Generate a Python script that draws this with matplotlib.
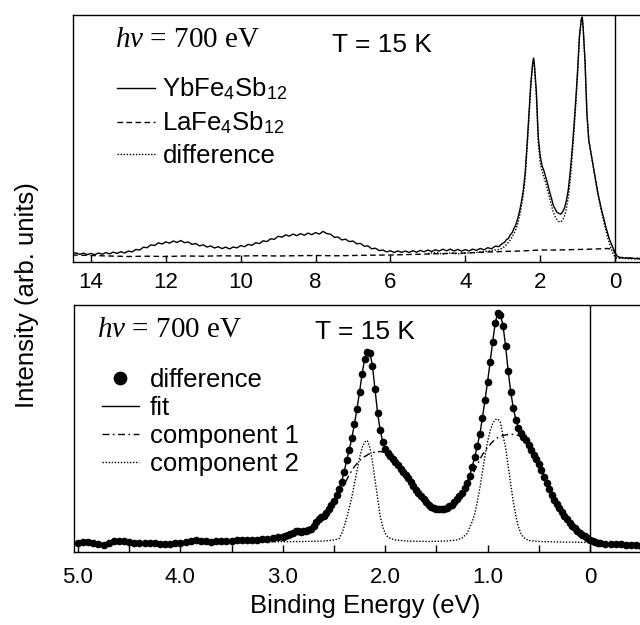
import numpy as np
import matplotlib
matplotlib.use('Agg')
import matplotlib.pyplot as plt
from matplotlib.ticker import FixedLocator, FixedFormatter, MultipleLocator

plt.rcParams['font.family'] = ['Liberation Sans', 'DejaVu Sans']
plt.rcParams['mathtext.fontset'] = 'custom'
plt.rcParams['mathtext.rm'] = 'Liberation Sans'
plt.rcParams['mathtext.it'] = 'Liberation Serif:italic'
plt.rcParams['mathtext.bf'] = 'Liberation Sans:bold'

# ---------------- top panel data (wide valence band) ----------------
# YbFe4Sb12, broad part sampled every 0.1 eV from 14.5 to 3.1 eV
yb_wide_e = np.linspace(14.5, 3.1, 115)
yb_wide_i = [8.0, 9.2, 7.6, 8.9, 7.4, 8.6, 7.3, 9.0, 7.8, 9.4,
             8.1, 9.9, 8.6, 10.3, 9.0, 10.9, 10.1, 12.6, 11.9, 14.8,
             14.3, 17.1, 16.5, 19.2, 18.0, 20.1, 18.9, 21.0, 19.6, 21.5,
             19.3, 20.0, 17.6, 18.5, 16.1, 17.2, 15.0, 16.0, 14.0, 15.3,
             13.4, 14.9, 13.0, 15.0, 14.1, 16.4, 15.3, 17.6, 16.7, 19.3,
             18.4, 21.2, 20.4, 23.2, 22.7, 25.7, 24.8, 27.1, 25.9, 27.9,
             26.3, 28.4, 26.7, 28.9, 27.3, 29.4, 27.9, 30.6, 28.4, 27.8,
             24.7, 25.0, 22.1, 22.8, 20.4, 21.0, 18.2, 18.6, 15.8, 16.1,
             13.2, 13.8, 11.4, 12.0, 10.1, 11.3, 9.5, 11.1, 9.6, 11.0,
             9.5, 11.3, 9.8, 11.6, 10.2, 12.0, 10.5, 12.3, 10.9, 12.8,
             11.2, 12.9, 11.0, 12.6, 10.9, 12.4, 11.0, 12.9, 11.6, 13.6,
             12.1, 14.3, 13.2, 15.8, 15.4]

# Yb 4f region (also used for the difference curve)
peak_e = [3.05, 3.00, 2.95, 2.90, 2.85, 2.80, 2.75, 2.70, 2.65, 2.60,
          2.55, 2.50, 2.45, 2.40, 2.35, 2.30, 2.25, 2.20, 2.175, 2.15,
          2.10, 2.05, 2.00, 1.95, 1.90, 1.85, 1.80, 1.75, 1.70, 1.65,
          1.60, 1.55, 1.50, 1.45, 1.40, 1.35, 1.30, 1.25, 1.20, 1.15,
          1.10, 1.05, 1.00, 0.95, 0.90, 0.875, 0.85, 0.80, 0.75, 0.70,
          0.65, 0.60, 0.55, 0.50, 0.45, 0.40, 0.35, 0.30, 0.25, 0.20,
          0.15, 0.10, 0.05, 0.00, -0.05, -0.10, -0.15, -0.20, -0.25, -0.30,
          -0.35, -0.40, -0.45, -0.50, -0.55, -0.60, -0.65, -0.70]
yb_peak_i = [17.2, 18.8, 19.6, 22.4, 23.5, 27.0, 29.2, 33.4, 37.1, 43.3,
             50.6, 60.3, 71.6, 89.0, 117, 147, 178, 199, 204, 196,
             170, 125, 106.5, 96.5, 91.3, 84.6, 78.3, 70.6, 64.2, 56.7,
             53.2, 49.6, 48.7, 47.8, 50.3, 53.8, 61.2, 71.8, 88.3, 109.7,
             134, 161, 191, 226, 243, 245, 234, 200, 148, 121.5,
             110.6, 100.3, 88.6, 78.4, 67.6, 59.3, 50.6, 43.8, 35.7, 29.2,
             22.8, 18.2, 13.8, 9.5, 6.2, 5.1, 4.4, 4.6, 3.9, 4.3,
             3.6, 4.0, 3.4, 3.8, 3.2, 3.6, 3.1, 3.4]
diff_peak_i = [13.0, 14.0, 15.5, 17.5, 19.5, 22.0, 25.0, 28.5, 32.5, 38.0,
               46.0, 55.0, 67.0, 84.0, 112, 143, 175, 197, 202, 193,
               165, 119, 100, 91, 85, 79, 71.5, 64.5, 57, 50,
               45.5, 42.5, 40.5, 40, 42, 46, 53, 64, 80, 103,
               128, 156, 187, 224, 242, 244, 234, 200, 149, 122,
               111, 99.5, 88, 77, 66.5, 57, 48.5, 40.5, 32.5, 25,
               18.5, 13, 8.5, 5, 4, 3.8, 3.6, 3.8, 3.4, 3.6,
               3.3, 3.5, 3.2, 3.4, 3.1, 3.3, 3.0, 3.2]

# difference, 5.0 - 3.1 eV (below the YbFe4Sb12 curve)
diff_low_e = [5.0, 4.8, 4.6, 4.4, 4.2, 4.0, 3.8, 3.6, 3.4, 3.2, 3.1]
diff_low_i = [8.5, 9.5, 8.0, 9.0, 8.2, 8.8, 9.2, 10.0, 10.8, 12.0, 12.5]

# LaFe4Sb12
la_e = [14.5, 14.0, 13.5, 13.0, 12.5, 12.0, 11.5, 11.0, 10.5, 10.0,
        9.5, 9.0, 8.5, 8.0, 7.5, 7.0, 6.5, 6.0, 5.5, 5.0,
        4.5, 4.0, 3.5, 3.0, 2.5, 2.0, 1.5, 1.0, 0.5, 0.2,
        0.05, 0.0, -0.05, -0.1, -0.3, -0.7]
la_i = [7.0, 6.5, 6.0, 5.5, 5.8, 5.5, 6.0, 5.8, 6.2, 6.0,
        6.3, 6.0, 6.3, 6.5, 6.2, 6.5, 6.8, 7.0, 7.5, 8.0,
        8.5, 9.0, 9.8, 10.5, 11.0, 12.0, 12.0, 12.5, 13.0, 13.5,
        12.5, 9.0, 5.5, 4.5, 4.0, 3.5]

# ---------------- bottom panel data (fit of the difference) ----------------
dots_low_e = np.linspace(5.0, 3.05, 40)
dots_low_i = [8.5, 9.5, 9.5, 8.5, 7.5, 6.8, 8.5, 10.5, 11.0, 11.0,
              9.5, 8.5, 8.5, 9.0, 8.5, 8.5, 8.0, 7.8, 7.5, 8.5,
              9.0, 10.0, 11.0, 11.5, 11.0, 10.5, 10.0, 10.5, 11.0, 10.5,
              11.0, 11.5, 12.0, 11.5, 11.5, 12.0, 12.5, 13.0, 13.5, 14.5]

dots_mid_e = np.linspace(3.0, -0.075, 124)
dots_mid_i = [14.5, 15.5, 17.0, 18.0, 19.0, 20.5, 20.5, 20.0, 20.5, 21.0,
              21.5, 22.5, 26.0, 30.0, 33.0, 34.5, 36.0, 39.0, 43.0, 47.0,
              51.0, 57.0, 63.0, 70.0, 80.0, 92.0, 102, 114, 128, 143,
              160, 178, 193, 200, 199, 186, 163, 139, 122, 110,
              103, 99, 96, 93, 90, 87, 83, 80, 77, 74,
              70, 66, 62, 59, 56, 53, 50, 47, 45, 44,
              43, 42.5, 42.5, 43, 44, 45.5, 47, 50, 52.5, 55.5,
              59, 63.5, 69, 76, 85, 95, 106, 118, 134, 152,
              170, 190, 210, 229, 239, 237, 226, 206, 181, 160,
              144, 132, 124, 119, 115, 112, 107, 102, 97, 93,
              88, 82, 75, 69, 63, 57, 52, 48, 44, 40,
              36, 33, 29, 26, 23.5, 21, 19, 17, 15.5, 13.5,
              12, 10.5, 9.5, 8.5]

dots_tail_e = np.linspace(-0.1, -0.5, 9)
dots_tail_i = [8.3, 8.0, 7.5, 7.8, 7.2, 6.8, 7.0, 6.3, 6.0]

comp1_e = [3.2, 3.1, 3.0, 2.9, 2.8, 2.75, 2.7, 2.65, 2.6, 2.55,
           2.5, 2.45, 2.4, 2.35, 2.3, 2.25, 2.2, 2.15, 2.1, 2.05,
           2.0, 1.95, 1.9, 1.85, 1.8, 1.75, 1.7, 1.65, 1.6, 1.55,
           1.5, 1.45, 1.4, 1.35, 1.3, 1.25, 1.2, 1.15, 1.1, 1.05,
           1.0, 0.95, 0.9, 0.85, 0.8, 0.75, 0.7, 0.65, 0.6, 0.55,
           0.5, 0.45, 0.4, 0.35, 0.3, 0.25, 0.2, 0.15, 0.1, 0.05,
           0.0, -0.05, -0.1, -0.2, -0.3, -0.4, -0.5]
comp1_i = [12, 13, 14.5, 18.5, 20, 21, 25, 31, 35.5, 42,
           49, 58, 67, 77, 85, 91, 95, 98, 99.5, 100,
           99, 96, 90, 83, 77, 70, 62, 56, 50, 45,
           43, 42.5, 44, 47, 52, 58, 66, 76, 87, 97,
           104, 110, 114, 116, 117, 117, 116, 114, 107, 97,
           88, 75, 63, 52, 44, 36, 29, 23.5, 19, 15.5,
           12, 9.5, 8.5, 7.5, 7.2, 7.0, 6.0]

comp2_e = [3.2, 3.0, 2.8, 2.6, 2.5, 2.45, 2.425, 2.4, 2.375, 2.35,
           2.325, 2.3, 2.275, 2.25, 2.225, 2.2, 2.175, 2.15, 2.125, 2.1,
           2.075, 2.05, 2.025, 2.0, 1.975, 1.95, 1.9, 1.8, 1.6, 1.4,
           1.3, 1.25, 1.2, 1.15, 1.125, 1.1, 1.075, 1.05, 1.025, 1.0,
           0.975, 0.95, 0.925, 0.9, 0.875, 0.85, 0.825, 0.8, 0.775, 0.75,
           0.725, 0.7, 0.675, 0.65, 0.6, 0.5, 0.3, 0.0, -0.2, -0.5]
comp2_i = [9.5, 9.8, 10, 10.5, 11.5, 13, 18, 25, 34, 44,
           55, 68, 81, 94, 104, 109.5, 111, 104, 90, 72,
           54, 36, 25, 18, 14.5, 13, 11.5, 10.5, 10, 10.5,
           11.5, 13.5, 18, 30, 38, 50, 64, 80, 96, 110,
           121, 128, 132, 132.5, 129, 116, 104, 86, 68, 50,
           36, 25, 18, 14, 11, 10, 9.5, 9, 8.5, 8]

top_ticks = [0, 2, 4, 6, 8, 10, 12, 14]
bottom_ticks = [0, 1, 2, 3, 4, 5]
bottom_tick_labels = ['0', '1.0', '2.0', '3.0', '4.0', '5.0']

# ---------------- figure ----------------
W, H = 640, 625
fig = plt.figure(figsize=(6.4, 6.25), dpi=100)
ax1 = fig.add_axes([73 / W, 1 - 262 / H, (W - 73) / W, 247 / H])
ax2 = fig.add_axes([74 / W, 1 - 551.5 / H, (W - 74) / W, 246.5 / H])

# top panel
yb_e = np.concatenate([yb_wide_e, peak_e])
yb_i = np.concatenate([yb_wide_i, yb_peak_i])
diff_e = np.concatenate([diff_low_e, peak_e[1:]])
diff_i = np.concatenate([diff_low_i, diff_peak_i[1:]])

h_la, = ax1.plot(la_e, la_i, color='k', lw=1.0, dashes=(4, 2.5))
h_diff, = ax1.plot(diff_e, diff_i, color='k', lw=1.0, dashes=(1, 1.2))
h_yb, = ax1.plot(yb_e, yb_i, color='k', lw=1.0)
ax1.axvline(0, color='k', lw=1.0)

ax1.set_xlim(14.48, -0.668)
ax1.set_ylim(0, 247)
ax1.set_xticks(top_ticks)
ax1.set_yticks([])
ax1.spines['right'].set_visible(False)
ax1.tick_params(axis='x', direction='in', length=5, width=1, labelsize=16, pad=7)

leg1 = ax1.legend([h_yb, h_la, h_diff],
                  ['YbFe$_4$Sb$_{12}$', 'LaFe$_4$Sb$_{12}$', 'difference'],
                  loc='upper left', bbox_to_anchor=(0.077, 0.755),
                  frameon=False, fontsize=18.5, handlelength=1.48,
                  handletextpad=0.3, labelspacing=0.3,
                  borderpad=0, borderaxespad=0)

ax1.text(0.074, 0.87, r'$h\nu$ = 700 eV', transform=ax1.transAxes,
         family='Liberation Serif', fontsize=21, va='baseline')
ax1.text(0.457, 0.852, 'T = 15 K', transform=ax1.transAxes,
         fontsize=19, va='baseline')

# bottom panel
dots_e = np.concatenate([dots_low_e, dots_mid_e, dots_tail_e])
dots_i = np.concatenate([dots_low_i, dots_mid_i, dots_tail_i])
fit_e = np.concatenate([dots_mid_e, dots_tail_e])
fit_i = np.concatenate([dots_mid_i, dots_tail_i])

h_c2, = ax2.plot(comp2_e, comp2_i, color='k', lw=1.0, dashes=(1, 1.2))
h_c1, = ax2.plot(comp1_e, comp1_i, color='k', lw=1.0, dashes=(5, 2.5, 1.2, 2.5))
h_dots, = ax2.plot(dots_e, dots_i, 'o', color='k', ms=5.5, mew=0)
h_fit, = ax2.plot(fit_e, fit_i, color='k', lw=1.0)
ax2.axvline(0, color='k', lw=1.0)

ax2.set_xlim(5.039, -0.488)
ax2.set_ylim(0, 246.5)
ax2.xaxis.set_major_locator(FixedLocator(bottom_ticks))
ax2.xaxis.set_major_formatter(FixedFormatter(bottom_tick_labels))
ax2.xaxis.set_minor_locator(MultipleLocator(0.5))
ax2.set_yticks([])
ax2.spines['right'].set_visible(False)
ax2.tick_params(axis='x', which='both', direction='in', length=5, width=1,
                labelsize=16, pad=11)

leg2 = ax2.legend([h_dots, h_fit, h_c1, h_c2],
                  ['difference', 'fit', 'component 1', 'component 2'],
                  loc='upper left', bbox_to_anchor=(0.0495, 0.746),
                  frameon=False, fontsize=18.5, handlelength=1.42,
                  handletextpad=0.45, labelspacing=0.16, numpoints=1,
                  markerscale=1.8, borderpad=0, borderaxespad=0)

ax2.text(0.041, 0.87, r'$h\nu$ = 700 eV', transform=ax2.transAxes,
         family='Liberation Serif', fontsize=21, va='baseline')
ax2.text(0.426, 0.862, 'T = 15 K', transform=ax2.transAxes,
         fontsize=19, va='baseline')

for ax in (ax1, ax2):
    for s in ax.spines.values():
        s.set_linewidth(1.0)

fig.text(365 / W, 1 - 606 / H, 'Binding Energy (eV)', fontsize=18.5,
         ha='center', va='center')
fig.text(27 / W, 1 - 295 / H, 'Intensity (arb. units)', fontsize=18.5,
         rotation=90, ha='center', va='center')

fig.savefig('out.png', dpi=100)
